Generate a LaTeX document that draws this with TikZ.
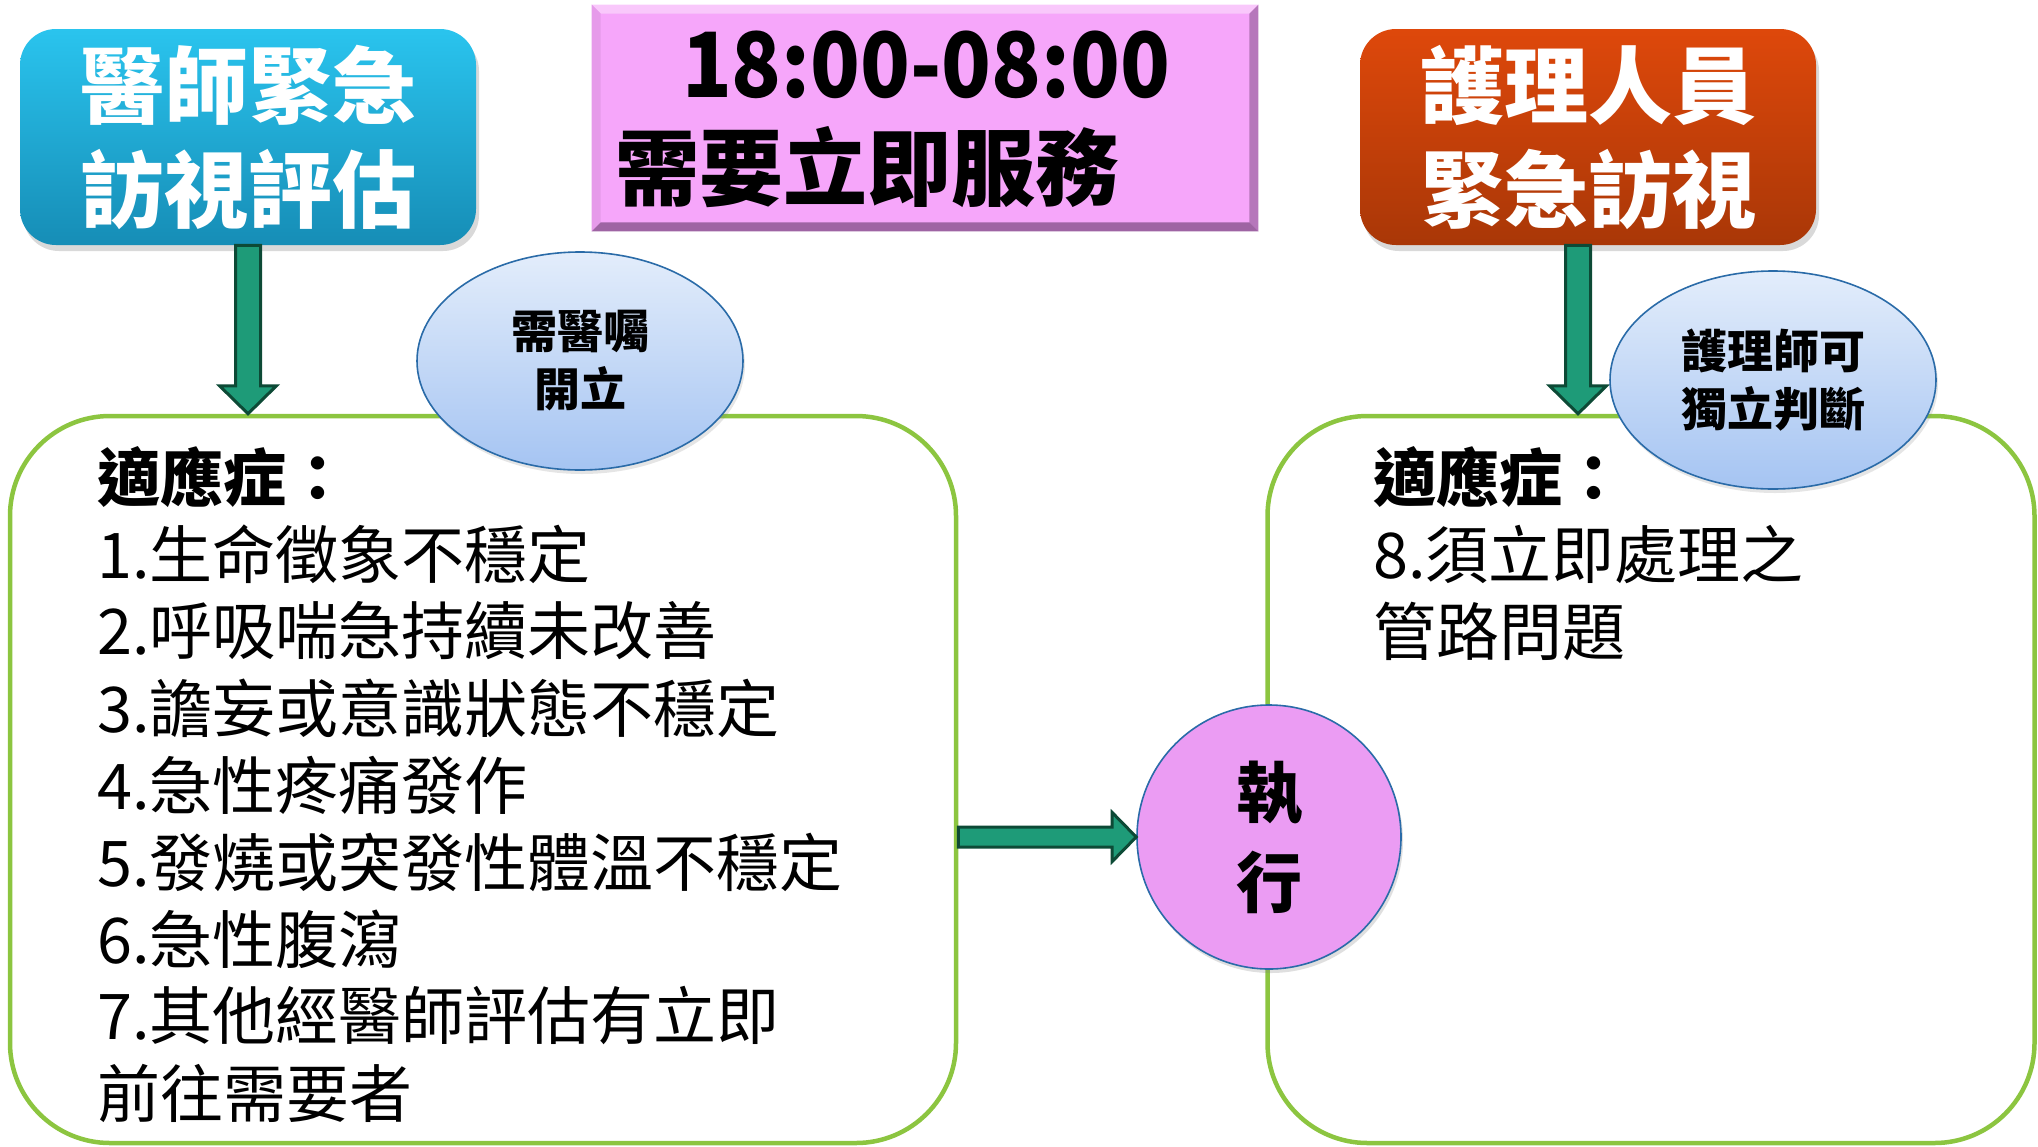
\documentclass[tikz,border=0pt]{standalone}
\usepackage{fontspec}
\setmainfont{Noto Sans CJK TC}
\usetikzlibrary{calc,shapes.geometric,shadows}
\definecolor{blueT}{HTML}{2AC4EE}
\definecolor{blueB}{HTML}{168DB6}
\definecolor{oranT}{HTML}{DE480B}
\definecolor{oranB}{HTML}{A93707}
\definecolor{gline}{HTML}{8CC540}
\definecolor{arrfill}{HTML}{1E9B78}
\definecolor{arrdark}{HTML}{0D4A36}
\definecolor{bubT}{HTML}{E3EDFB}
\definecolor{bubB}{HTML}{A5C4F2}
\definecolor{bblue}{HTML}{2A6BA8}
\definecolor{execfill}{HTML}{EB9CF3}
\definecolor{pinkfill}{HTML}{F6A6FA}
\definecolor{pinkhi}{HTML}{F9C8FB}
\definecolor{pinkleft}{HTML}{E69BEA}
\definecolor{pinkright}{HTML}{B677BB}
\definecolor{pinkbot}{HTML}{9E64A3}
\begin{document}
\begin{tikzpicture}[x=0.5pt,y=-0.5pt,
  headbox/.style={rounded corners=18pt, minimum width=228pt, minimum height=108pt,
    text=white, font=\fontsize{42}{52}\selectfont\bfseries, align=center, inner sep=0pt,
    drop shadow={shadow xshift=1.5pt, shadow yshift=-3pt, opacity=0.3}},
  gbox/.style={draw=gline, line width=2.25pt, rounded corners=50pt, fill=white, inner sep=0pt},
  bubble/.style={ellipse, draw=bblue, line width=0.8pt, top color=bubT, bottom color=bubB,
    minimum width=163pt, minimum height=109pt, inner sep=0pt, align=center,
    font=\fontsize{23}{29}\selectfont\bfseries,
    drop shadow={shadow xshift=1pt, shadow yshift=-2pt, opacity=0.2}},
  blockarrow/.style={fill=arrfill, draw=arrdark, line width=1.5pt, line join=miter},
  listtxt/.style={anchor=west, inner sep=0pt, font=\fontsize{31.5}{38}\selectfont},
  listhead/.style={listtxt, font=\fontsize{31.5}{38}\selectfont\bfseries}
]
\useasboundingbox (0,0) rectangle (2038,1146);

% header boxes
\node[headbox, top color=blueT, bottom color=blueB] (doc) at (248,137) {醫師緊急\\訪視評估};
\node[headbox, top color=oranT, bottom color=oranB] (nurse) at (1588,137) {護理人員\\緊急訪視};

% pink time box with bevel
\node[fill=pinkfill, minimum width=333pt, minimum height=113pt, inner sep=0pt] (time) at (925,118) {};
\fill[pinkhi] (time.north west) -- (time.north east) -- ($(time.north east)+(-9,9)$) -- ($(time.north west)+(9,9)$) -- cycle;
\fill[pinkleft] (time.north west) -- (time.south west) -- ($(time.south west)+(9,-9)$) -- ($(time.north west)+(9,9)$) -- cycle;
\fill[pinkright] (time.north east) -- (time.south east) -- ($(time.south east)+(-9,-9)$) -- ($(time.north east)+(-9,9)$) -- cycle;
\fill[pinkbot] (time.south west) -- (time.south east) -- ($(time.south east)+(-9,-9)$) -- ($(time.south west)+(9,-9)$) -- cycle;
\node[inner sep=0pt, font=\fontsize{45}{50}\selectfont\bfseries] (t1) at (926,65) {\scalebox{0.91}[1]{18:00-08:00}};
\node[inner sep=0pt, anchor=west, font=\fontsize{42}{50}\selectfont\bfseries] (t2) at (615,167) {需要立即服務};

% green boxes
\node[gbox, minimum width=473pt, minimum height=363.5pt] (lbox) at (483,779.5) {};
\node[gbox, minimum width=383.5pt, minimum height=363.5pt] (rbox) at (1651,779.5) {};

% texts
\node[listhead] (lh) at (97,477) {適應症：};
\node[listtxt] (l1) at (97,554) {1.生命徵象不穩定};
\node[listtxt] (l2) at (97,631) {2.呼吸喘急持續未改善};
\node[listtxt] (l3) at (97,708) {3.譫妄或意識狀態不穩定};
\node[listtxt] (l4) at (97,785) {4.急性疼痛發作};
\node[listtxt] (l5) at (97,862) {5.發燒或突發性體溫不穩定};
\node[listtxt] (l6) at (97,939) {6.急性腹瀉};
\node[listtxt] (l7) at (97,1016) {7.其他經醫師評估有立即};
\node[listtxt] (l8) at (97,1093) {前往需要者};

\node[listhead] (rh) at (1373,477) {適應症：};
\node[listtxt] (r1) at (1373,554) {8.須立即處理之};
\node[listtxt] (r2) at (1373,631) {管路問題};

% execute circle
\node[circle, draw=bblue, line width=0.8pt, fill=execfill, minimum size=132pt, inner sep=0pt,
  align=center, font=\fontsize{33}{45}\selectfont\bfseries,
  drop shadow={shadow xshift=1pt, shadow yshift=-2pt, opacity=0.25}] (exec) at (1269,837) {執\\行};

% arrows
\coordinate (a1s) at (doc.south);
\coordinate (a1e) at (doc.south |- lbox.north);
\draw[blockarrow] ($(a1s)+(-12.5,0)$) -- ($(a1e)+(-12.5,-28)$) -- ($(a1e)+(-28.5,-28)$) -- (a1e)
  -- ($(a1e)+(28.5,-28)$) -- ($(a1e)+(12.5,-28)$) -- ($(a1s)+(12.5,0)$) -- cycle;

\coordinate (a2s) at ($(nurse.south)+(-10,0)$);
\coordinate (a2e) at (a2s |- rbox.north);
\draw[blockarrow] ($(a2s)+(-12.5,0)$) -- ($(a2e)+(-12.5,-28)$) -- ($(a2e)+(-28.5,-28)$) -- (a2e)
  -- ($(a2e)+(28.5,-28)$) -- ($(a2e)+(12.5,-28)$) -- ($(a2s)+(12.5,0)$) -- cycle;

\coordinate (a3s) at (lbox.east |- exec.west);
\coordinate (a3e) at (exec.west);
\draw[blockarrow] ($(a3s)+(0,-10)$) -- ($(a3e)+(-24,-10)$) -- ($(a3e)+(-24,-24.5)$) -- (a3e)
  -- ($(a3e)+(-24,24.5)$) -- ($(a3e)+(-24,10)$) -- ($(a3s)+(0,10)$) -- cycle;

% bubbles
\node[bubble] (b1) at (580,361) {需醫囑\\開立};
\node[bubble] (b2) at (1773,380) {護理師可\\獨立判斷};
\end{tikzpicture}
\end{document}
